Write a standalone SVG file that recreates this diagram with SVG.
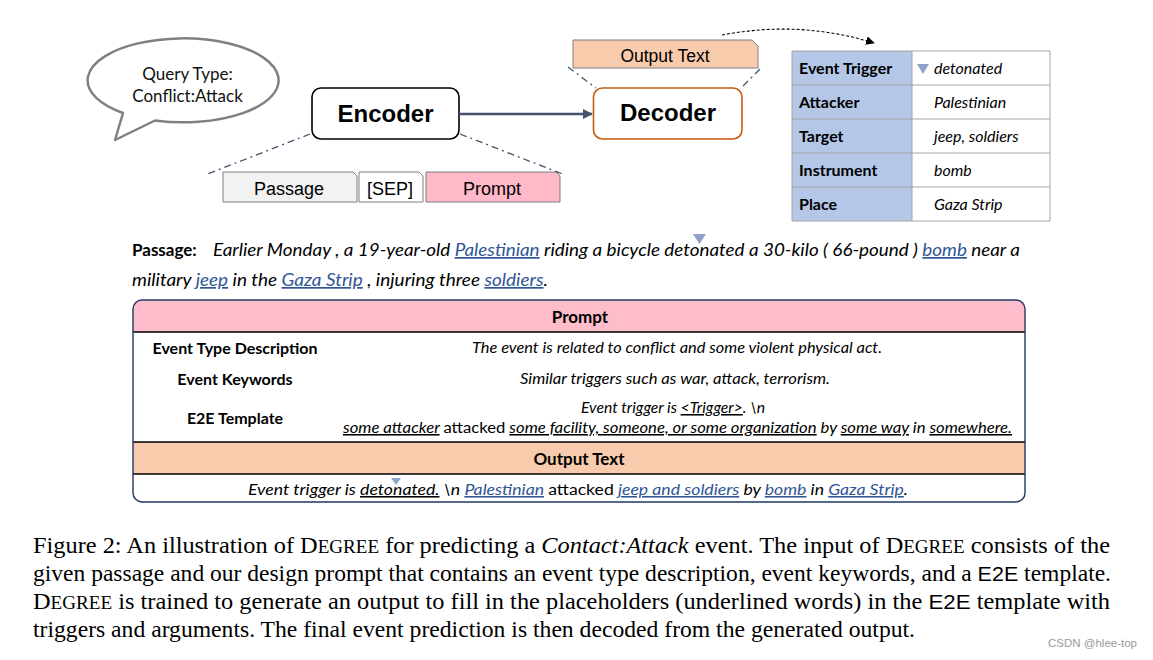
<svg xmlns="http://www.w3.org/2000/svg" width="1153" height="660" viewBox="0 0 1153 660">
<defs>
<marker id="arrowBlue" viewBox="0 0 10 10" refX="9" refY="5" markerWidth="4" markerHeight="4" orient="auto" markerUnits="strokeWidth"><path d="M0,0 L10,5 L0,10 Z" fill="#44546a"/></marker>
<marker id="arrowBlack" viewBox="0 0 10 10" refX="9" refY="5" markerWidth="8" markerHeight="8" orient="auto" markerUnits="strokeWidth"><path d="M0,0 L10,5 L0,10 Z" fill="#000"/></marker>
</defs>
<style>
.cal{font-family:Lato,"Liberation Sans",sans-serif;}
.ar{font-family:"Liberation Sans",Arial,sans-serif;}
.tm{font-family:"Liberation Serif","Times New Roman",serif;}
.b{font-weight:bold;}
.i{font-style:italic;}
.n{font-style:normal;}
.u{text-decoration:underline;}
.blue{fill:#2f5597;text-decoration:underline;}
.dd{fill:none;stroke:#44546a;stroke-width:1.3;stroke-dasharray:7,4,2,4;}
.tab{stroke:#7f7f7f;stroke-width:1;}
.cell{stroke:#a6a6a6;stroke-width:1;}
.tri{fill:#8fa2c8;}
</style>
<rect width="1153" height="660" fill="#fff"/>

<g id="query-bubble">
<path d="M123,113 A95.5 42 0 1 1 155,120.5 L115,140 Z" fill="#fff" stroke="#808080" stroke-width="2.5" stroke-linejoin="round"/>
<text class="cal" x="187.5" y="80" font-size="17" text-anchor="middle" fill="#111">Query Type:</text>
<text class="cal" x="187.5" y="102" font-size="17" text-anchor="middle" fill="#111">Conflict:Attack</text>
</g>

<g id="encoder">
<rect x="312" y="88" width="147" height="51" rx="9" fill="#fff" stroke="#000" stroke-width="1.6"/>
<text class="ar b" x="385.5" y="122" font-size="24" text-anchor="middle">Encoder</text>
</g>

<g id="decoder">
<rect x="593.5" y="88" width="148.5" height="51" rx="9" fill="#fff" stroke="#c55a11" stroke-width="1.6"/>
<text class="ar b" x="668" y="121" font-size="24" text-anchor="middle">Decoder</text>
</g>

<g id="output-text-tab">
<path class="tab" d="M573,40 H752 L758,46 V68 H573 Z" fill="#f8cbad"/>
<text class="ar" x="665" y="62" font-size="17.5" text-anchor="middle">Output Text</text>
</g>

<g id="passage-tab">
<path class="tab" d="M223,172 H353 L357,176 V202 H223 Z" fill="#f2f2f2"/>
<text class="ar" x="289" y="195" font-size="18" text-anchor="middle">Passage</text>
</g>
<g id="sep-tab">
<path class="tab" d="M359,172 H419 L423,176 V202 H359 Z" fill="#fff"/>
<text class="ar" x="390" y="195" font-size="18" text-anchor="middle">[SEP]</text>
</g>
<g id="prompt-tab">
<path class="tab" d="M426,172 H556 L560,176 V202 H426 Z" fill="#ffb9c9"/>
<text class="ar" x="492" y="195" font-size="18" text-anchor="middle">Prompt</text>
</g>

<g id="connectors">
<line x1="459" y1="114" x2="592" y2="114" stroke="#44546a" stroke-width="2.5" marker-end="url(#arrowBlue)"/>
<line class="dd" x1="310" y1="134" x2="205" y2="175"/>
<line class="dd" x1="460" y1="134" x2="565" y2="175"/>
<line class="dd" x1="568" y1="67" x2="596" y2="88"/>
<line class="dd" x1="760" y1="69" x2="741" y2="88"/>
<path d="M722,35 Q800,20 874,43" fill="none" stroke="#000" stroke-width="1.1" stroke-dasharray="3,2" marker-end="url(#arrowBlack)"/>
</g>

<g id="result-table">
<rect x="792" y="51" width="120" height="170" fill="#b4c7e7"/>
<rect x="912" y="51" width="138" height="170" fill="#fff"/>
<path class="cell" fill="none" d="M792,51 H1050 V221 H792 Z M912,51 V221 M792,85 H1050 M792,119 H1050 M792,153 H1050 M792,187 H1050"/>
<g class="cal b" font-size="16">
<text x="799" y="74">Event Trigger</text>
<text x="799" y="108">Attacker</text>
<text x="799" y="142">Target</text>
<text x="799" y="176">Instrument</text>
<text x="799" y="210">Place</text>
</g>
<path class="tri" d="M917,64 H929 L923,74 Z"/>
<g class="cal i" font-size="16">
<text x="934" y="74">detonated</text>
<text x="934" y="108">Palestinian</text>
<text x="934" y="142">jeep, soldiers</text>
<text x="934" y="176">bomb</text>
<text x="934" y="210">Gaza Strip</text>
</g>
</g>

<g id="passage-text">
<text class="cal b" x="132" y="256" font-size="17">Passage:</text>
<path class="tri" d="M693,234 H706 L699.5,244 Z"/>
<text class="cal i" x="213" y="256" font-size="17" textLength="807" lengthAdjust="spacingAndGlyphs">Earlier Monday , a 19-year-old <tspan class="blue">Palestinian</tspan> riding a bicycle detonated a 30-kilo ( 66-pound ) <tspan class="blue">bomb</tspan> near a</text>
<text class="cal i" x="132" y="286" font-size="17" textLength="416" lengthAdjust="spacingAndGlyphs">military <tspan class="blue">jeep</tspan> in the <tspan class="blue">Gaza Strip</tspan> , injuring three <tspan class="blue">soldiers</tspan>.</text>
</g>

<g id="prompt-box">
<path d="M133,332 V308 Q133,300 141,300 H1017 Q1025,300 1025,308 V332 Z" fill="#ffbdcc"/>
<rect x="133" y="442" width="892" height="32" fill="#f8cbad"/>
<path d="M133,332 H1025 M133,442 H1025 M133,474 H1025" stroke="#000" stroke-width="1.3" fill="none"/>
<rect x="133" y="300" width="892" height="202" rx="9" fill="none" stroke="#203864" stroke-width="1.4"/>
<text class="cal b" x="580" y="323" font-size="17" text-anchor="middle">Prompt</text>
<g class="cal b" font-size="16" text-anchor="middle">
<text x="235" y="354">Event Type Description</text>
<text x="235" y="385">Event Keywords</text>
<text x="235" y="424">E2E Template</text>
</g>
<g class="cal i" font-size="15.5">
<text x="472" y="353" textLength="410" lengthAdjust="spacingAndGlyphs">The event is related to conflict and some violent physical act.</text>
<text x="520" y="384" textLength="310" lengthAdjust="spacingAndGlyphs">Similar triggers such as war, attack, terrorism.</text>
<text x="581" y="413" textLength="184" lengthAdjust="spacingAndGlyphs">Event trigger is <tspan class="u">&lt;Trigger&gt;</tspan>. \n</text>
<text x="343" y="433" textLength="669" lengthAdjust="spacingAndGlyphs"><tspan class="u">some attacker</tspan> <tspan class="n">attacked</tspan> <tspan class="u">some facility, someone, or some organization</tspan> by <tspan class="u">some way</tspan> in <tspan class="u">somewhere.</tspan></text>
</g>
<text class="cal b" x="579" y="465" font-size="17" text-anchor="middle">Output Text</text>
<path class="tri" d="M391,478 H401 L396,485 Z"/>
<text class="cal i" x="248" y="495" font-size="15.5" textLength="660" lengthAdjust="spacingAndGlyphs">Event trigger is <tspan class="u">detonated.</tspan> \n <tspan class="blue">Palestinian</tspan> <tspan class="n">attacked</tspan> <tspan class="blue">jeep and soldiers</tspan> by <tspan class="blue">bomb</tspan> in <tspan class="blue">Gaza Strip</tspan>.</text>
</g>

<g id="caption" class="tm" font-size="23" fill="#000">
<text x="33" y="553" textLength="1077" lengthAdjust="spacingAndGlyphs">Figure 2: An illustration of D<tspan font-size="18">EGREE</tspan> for predicting a <tspan font-style="italic">Contact:Attack</tspan> event. The input of D<tspan font-size="18">EGREE</tspan> consists of the</text>
<text x="33" y="581" textLength="1078" lengthAdjust="spacingAndGlyphs">given passage and our design prompt that contains an event type description, event keywords, and a <tspan class="ar" font-size="21">E2E</tspan> template.</text>
<text x="33" y="609" textLength="1077" lengthAdjust="spacingAndGlyphs">D<tspan font-size="18">EGREE</tspan> is trained to generate an output to fill in the placeholders (underlined words) in the <tspan class="ar" font-size="21">E2E</tspan> template with</text>
<text x="33" y="637" textLength="882" lengthAdjust="spacingAndGlyphs">triggers and arguments. The final event prediction is then decoded from the generated output.</text>
</g>

<text class="ar" x="1137" y="647" font-size="11.5" fill="#9a9a9a" text-anchor="end">CSDN @hlee-top</text>
</svg>
